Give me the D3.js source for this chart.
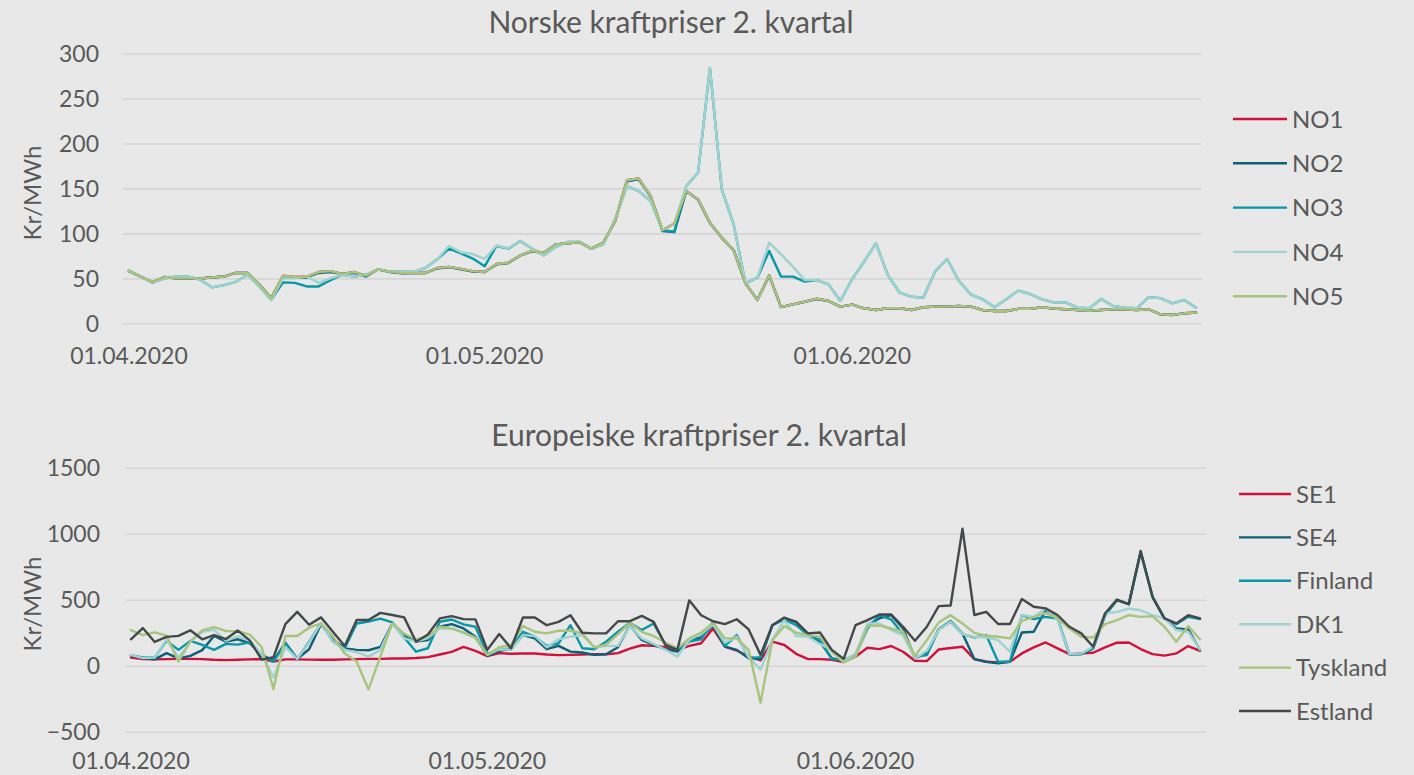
<!DOCTYPE html>
<html><head><meta charset="utf-8">
<script src="https://cdn.jsdelivr.net/npm/d3@7"></script>
<style>
html,body{margin:0;padding:0;background:#e7e8e7;}
svg{display:block;}
text{font-family:Lato,"Open Sans",sans-serif;fill:#595959;}
</style></head><body>
<svg id="c" width="1414" height="775"></svg>
<script>
// ---------- DATA ----------
const dates = d3.timeDay.range(new Date(2020,3,1), new Date(2020,6,1)); // 01.04.2020 - 30.06.2020
const xTickLabels = ["01.04.2020","01.05.2020","01.06.2020"];
const topYTicks = [0,50,100,150,200,250,300];
const botYTicks = [-500,0,500,1000,1500];

const NO1 = [58,52,45.5,51.5,50,50,50,51,52,56,56,43,28,53,51.5,52,57,58,55,57,53,60,57.5,56,56,56,61.5,62.7,60.5,58,57,66,67.4,75.5,80.4,78.5,87.8,89,90.4,83,89.6,113.7,159,161,141.5,103.7,111,147,137.8,111.9,95,81.5,44.4,26,53.3,18,21,24,27.4,24.8,18.5,20.7,16.7,14.8,16.7,16.7,14.8,17.8,18.5,18.5,19.3,18.5,14.8,13.7,13.7,16,16,17.8,16.3,15.6,14.8,14,14.8,15.6,15.6,14.8,15.6,10,9.3,11.1,11.9];
const NO2 = [58,52,45.5,51.5,50,50,50,51,52,56,56,43,28,52,51,51,56,57,55,56,52,60,57,55.5,56,56,61,62.5,60,57.5,57,65.5,67,75.5,80,78.5,87.5,89,90,83,89.5,113.5,158,160,141,102.5,101.5,147,137.5,111.5,95,81.5,44.4,26,53,18,21,24,27,24.8,18.5,20.7,16.7,14.8,16.7,16.7,14.8,17.8,18.5,18.5,19.3,18.5,14.8,13.7,13.7,16,16,17.8,16.3,15.6,14.8,14,14.8,15.6,15.6,14.8,15.6,10,9.3,11.1,11.9];
const NO3 = [58.6,52,45.5,50,52,52,48.5,40,42.5,46,54,41,26,45.5,45,41,41,48,54,52,54,60,57.5,57.5,57,61.5,71,83,77.6,72,63.4,86,83,91.5,83,75.5,85,90.4,90.4,83,87.8,115.6,152.6,147,136,103.7,101.5,152.6,167.4,284,149,110,44.4,50.7,80.4,51.9,51.9,46.3,48,43.3,25,49.3,68.5,89,53.7,34,29.6,28.5,58,71.5,47,32.2,26.7,17.8,26.7,36.3,32.6,26.7,23.3,23.3,17.4,16.7,27,19.3,17.4,16.7,29,28,22.2,26,17.4];
const NO4 = [58.6,52,45.5,50,52,52,48.5,40,42.5,46,54,41,26,50,50,52,45,50,54,52,54,60,57.5,57.5,57,61.5,71,86,79,77,71.6,86.5,83.5,91.5,83,75.5,85,90.4,90.4,83,87.8,115.6,152.6,147,136,103.7,111,152.6,167.4,284,149,110,44.4,50.7,89.6,76.7,63,48,48,43.3,25,49.3,68.5,89,53.7,34,29.6,28.5,58,71.5,47,32.2,26.7,17.8,26.7,36.3,32.6,26.7,23.3,23.3,17.4,16.7,27,19.3,17.4,16.7,29,28,22.2,26,17.4];
const NO5 = [58,52,45.5,51.5,50,50,50,51,52,56,56,43,28,53,51.5,52,57,58,55,57,53,60,57.5,56,56,56,61.5,62.7,60.5,58,57,66,67.4,75.5,80.4,78.5,87.8,89,90.4,83,89.6,113.7,159,161,141.5,103.7,111,147,137.8,111.9,95,81.5,44.4,26,53.3,18,21,24,27.4,24.8,18.5,20.7,16.7,14.8,16.7,16.7,14.8,17.8,18.5,18.5,19.3,18.5,14.8,13.7,13.7,16,16,17.8,16.3,15.6,14.8,14,14.8,15.6,15.6,14.8,15.6,10,9.3,11.1,11.9];

const SE1 = [62,50,48,50,52,52,50,45,42,45,48,50,32,48,48,46,45,45,48,50,52,52,55,55,58,65,85,105,142,112,72,95,90,92,92,85,80,82,85,88,87,95,130,155,150,140,120,150,170,282,145,115,70,40,182,157,90,50,50,45,28,68,136,126,149,106,38,35,123,134,144,50,30,25,30,93,139,176,131,88,93,98,139,174,176,126,88,76,93,149,113];
const SE4 = [80,58,48,95,55,75,118,225,182,200,170,82,38,174,52,125,314,200,131,120,117,142,320,232,182,194,295,315,282,220,75,112,125,232,207,125,150,107,100,82,87,140,307,195,157,125,107,195,215,307,145,120,57,50,307,357,332,232,182,57,35,80,307,358,383,282,55,98,275,338,244,50,30,18,30,252,257,421,358,86,88,131,383,496,466,860,520,358,283,275,119];
const Finland = [78,62,62,190,120,188,157,120,165,160,178,70,30,170,50,182,320,182,132,320,335,357,328,213,106,132,333,350,313,295,90,120,132,257,220,150,170,307,132,125,182,257,325,270,320,157,120,182,200,332,150,232,57,65,307,350,307,232,195,50,44,80,282,383,350,239,68,80,275,333,239,214,232,30,30,383,353,370,358,86,88,131,383,496,466,860,520,358,315,371,353];
const DK1 = [82,58,62,200,60,180,257,272,188,222,190,88,-90,142,52,176,320,182,120,102,69,120,318,207,182,210,282,282,248,210,82,125,120,232,225,140,200,220,232,140,150,150,300,207,165,120,70,195,240,312,175,220,65,-30,195,345,225,220,165,120,35,93,320,320,270,232,55,113,270,333,239,219,214,194,106,383,370,433,350,88,93,144,396,408,433,420,383,358,270,257,123];
const Tyskland = [270,232,252,228,32,185,268,292,263,262,236,142,-177,225,225,288,320,222,92,31,-180,70,320,242,200,222,295,282,253,212,82,140,157,300,257,245,265,265,245,140,157,240,325,257,225,175,132,207,250,325,207,207,120,-280,195,300,250,232,220,107,24,68,300,305,282,257,73,194,328,383,320,249,227,219,207,340,370,400,358,282,219,214,315,345,383,370,375,295,181,300,199];
const Estland = [200,285,180,218,226,268,200,232,202,266,192,46,64,315,408,310,366,257,150,346,346,400,384,366,182,237,358,376,353,351,120,240,132,365,365,307,332,382,250,245,245,337,337,377,332,157,120,495,382,337,315,352,275,82,307,365,332,245,252,120,52,307,345,388,388,295,189,295,451,456,1038,384,408,316,316,505,447,434,384,295,245,144,396,501,466,869,522,358,320,383,358];

const topSeries = [
  {name:"NO1", values:NO1, color:"#d0113a"},
  {name:"NO2", values:NO2, color:"#0e5f78"},
  {name:"NO3", values:NO3, color:"#0896a8"},
  {name:"NO4", values:NO4, color:"#9fd3d0"},
  {name:"NO5", values:NO5, color:"#a8c47e"}
];
const botSeries = [
  {name:"SE1", values:SE1, color:"#d0113a"},
  {name:"SE4", values:SE4, color:"#0e5f78"},
  {name:"Finland", values:Finland, color:"#0896a8"},
  {name:"DK1", values:DK1, color:"#9fd3d0"},
  {name:"Tyskland", values:Tyskland, color:"#a8c47e"},
  {name:"Estland", values:Estland, color:"#44484b"}
];

// ---------- DRAW ----------
const svg = d3.select("#c");
const fmt = d3.timeFormat("%d.%m.%Y");

function panel(cfg){
  const g = svg.append("g");
  const x = d3.scaleBand().domain(dates.map((d,i)=>i)).range([cfg.x0, cfg.x1]);
  const y = d3.scaleLinear().domain(cfg.domain).range([cfg.yBottom, cfg.yTop]);
  // gridlines + y labels
  const ya = d3.axisLeft(y).tickValues(cfg.yTicks).tickSize(-(cfg.x1-cfg.x0)).tickPadding(24).tickFormat(d3.format("d"));
  const yg = g.append("g").attr("transform",`translate(${cfg.x0},0)`).call(ya);
  yg.select(".domain").remove();
  yg.selectAll(".tick line").attr("stroke","#d5d6d5").attr("stroke-width",1.6);
  yg.selectAll(".tick text").attr("font-size",23).attr("fill","#595959").attr("x",cfg.labelX - cfg.x0).attr("dy","0.36em");
  // x labels
  const tickIdx = dates.map((d,i)=>i).filter(i=>xTickLabels.includes(fmt(dates[i])));
  const xa = d3.axisBottom(x).tickValues(tickIdx).tickSize(0).tickFormat(i=>fmt(dates[i]));
  const xg = g.append("g").attr("transform",`translate(0,${cfg.xLabelY})`).call(xa);
  xg.select(".domain").remove();
  xg.selectAll(".tick text").attr("font-size",23).attr("fill","#595959").attr("y",0).attr("dy",0);
  // lines
  const line = d3.line().x((d,i)=>x(i)+x.bandwidth()/2).y(d=>y(d));
  cfg.series.forEach(s=>{
    g.append("path").attr("d",line(s.values)).attr("fill","none").attr("stroke",s.color)
      .attr("stroke-width",2.4).attr("stroke-linejoin","round").attr("stroke-linecap","round");
  });
  // title
  g.append("text").attr("x",cfg.titleX).attr("y",cfg.titleY).attr("text-anchor","middle").attr("font-size",30).text(cfg.title);
  // y-axis title
  g.append("text").attr("transform",`translate(${cfg.yTitleX},${cfg.yTitleY}) rotate(-90)`).attr("text-anchor","middle")
    .attr("dy","0.36em").attr("font-size",24).text("Kr/MWh");
  // legend
  cfg.series.forEach((s,k)=>{
    const ly = cfg.legY0 + k*cfg.legStep;
    g.append("line").attr("x1",cfg.legX).attr("x2",cfg.legX+cfg.legW).attr("y1",ly).attr("y2",ly)
      .attr("stroke",s.color).attr("stroke-width",2.4);
    g.append("text").attr("x",cfg.legX+cfg.legW+5).attr("y",ly).attr("dy","0.36em").attr("font-size",24).text(s.name);
  });
}

panel({x0:123,x1:1202,yBottom:323.3,yTop:53.5,domain:[0,300],yTicks:topYTicks,labelX:99,xLabelY:364,
  series:topSeries,title:"Norske kraftpriser 2. kvartal",titleX:671,titleY:33,yTitleX:32,yTitleY:193,
  legX:1233,legW:54,legY0:119,legStep:44.3});
panel({x0:125,x1:1206,yBottom:731.7,yTop:467.7,domain:[-500,1500],yTicks:botYTicks,labelX:100,xLabelY:769,
  series:botSeries,title:"Europeiske kraftpriser 2. kvartal",titleX:699,titleY:446,yTitleX:32,yTitleY:604,
  legX:1239,legW:52,legY0:494,legStep:43.4});
</script></body></html>
